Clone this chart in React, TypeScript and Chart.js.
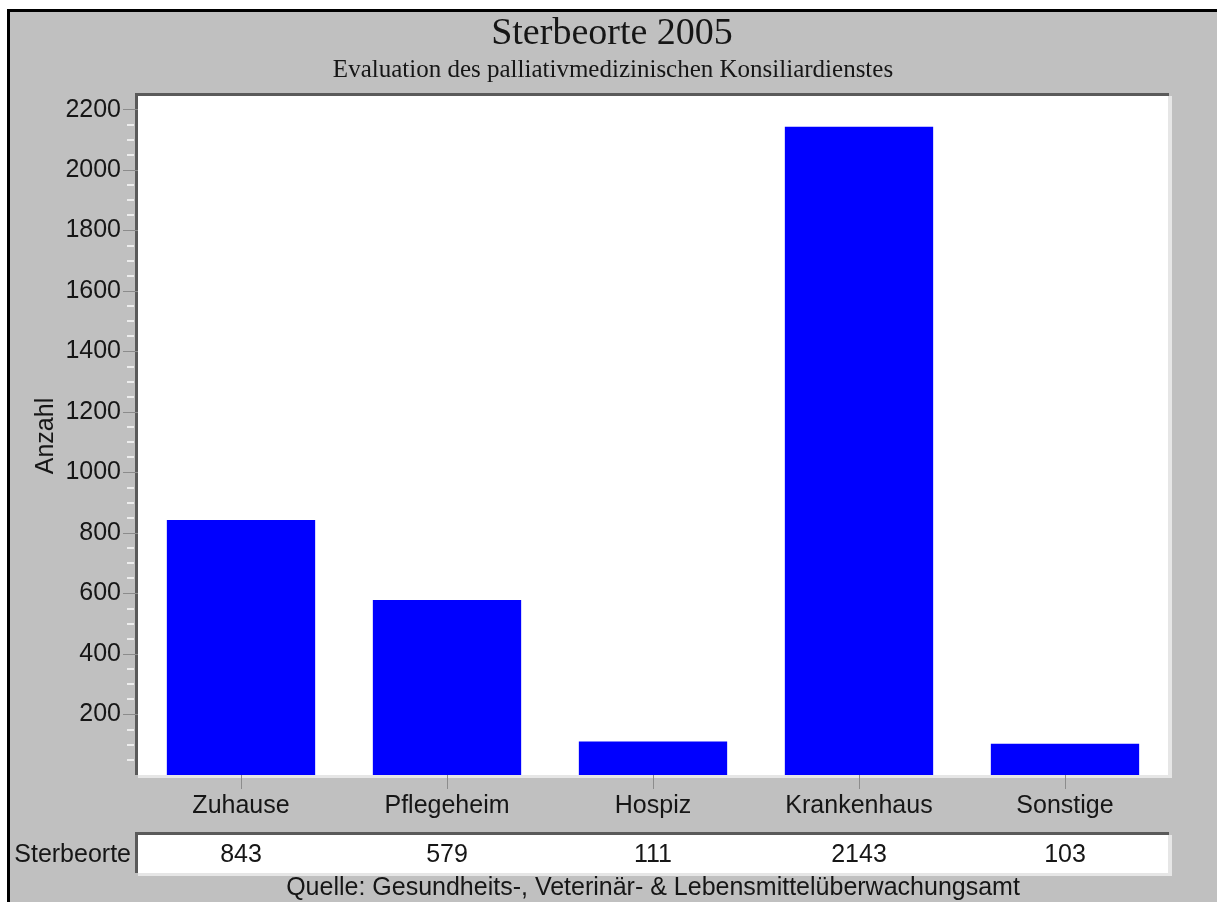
import React, { useEffect, useRef } from "react";
import { Chart, registerables } from "chart.js";

Chart.register(...registerables);

const categories: string[] = ["Zuhause", "Pflegeheim", "Hospiz", "Krankenhaus", "Sonstige"];
const values: number[] = [843, 579, 111, 2143, 103];
const seriesName = "Sterbeorte";
const titleText = "Sterbeorte 2005";
const subtitleText = "Evaluation des palliativmedizinischen Konsiliardienstes";
const yAxisTitle = "Anzahl";
const sourceText = "Quelle: Gesundheits-, Veterinär- & Lebensmittelüberwachungsamt";
const yMax = 2245;
const yStep = 200;
const yMinorStep = 50;

const SANS = "'Liberation Sans', Arial, sans-serif";
const SERIF = "'Liberation Serif', 'Times New Roman', serif";
const GRAY = "#c0c0c0";
const TEXT = "#161616";
const SANS_SIZE = 25;

const W = 1217;
const H = 902;
const PLOT_LEFT = 138;
const PLOT_TOP = 96;
const PLOT_RIGHT = 1168;
const PLOT_BOTTOM = 775;
const XAXIS_H = 46;

const framePlugin = {
  id: "frame",
  beforeDraw(chart: any) {
    const ctx = chart.ctx;
    const a = chart.chartArea;
    ctx.save();
    ctx.fillStyle = "#ffffff";
    ctx.fillRect(0, 0, W, H);
    ctx.fillStyle = GRAY;
    ctx.fillRect(9, 11, W - 9, H - 11);
    ctx.fillStyle = "#000000";
    ctx.fillRect(7, 9, W - 7, 3);
    ctx.fillRect(7, 9, 3, H - 9);
    ctx.fillStyle = "#e6e6e6";
    ctx.fillRect(a.left, a.top, a.right - a.left + 4, a.bottom - a.top + 3);
    ctx.fillStyle = "#ffffff";
    ctx.fillRect(a.left, a.top, a.right - a.left, a.bottom - a.top);
    ctx.fillStyle = "#5a5a5a";
    ctx.fillRect(a.left - 3, a.top - 3, a.right - a.left + 4, 3);
    ctx.fillRect(a.left - 3, a.top - 3, 3, a.bottom - a.top + 3);
    ctx.restore();
  },
  afterDraw(chart: any) {
    const ctx = chart.ctx;
    const a = chart.chartArea;
    const y = chart.scales.y;
    const x = chart.scales.x;
    ctx.save();
    ctx.strokeStyle = "#ededed";
    ctx.lineWidth = 2;
    for (let v = yMinorStep; v <= yMax; v += yMinorStep) {
      if (v % yStep === 0) continue;
      const py = Math.round(y.getPixelForValue(v));
      ctx.beginPath();
      ctx.moveTo(a.left - 11, py);
      ctx.lineTo(a.left - 4, py);
      ctx.stroke();
    }
    ctx.fillStyle = TEXT;
    ctx.textAlign = "center";
    ctx.textBaseline = "middle";
    const cx = (a.left + a.right) / 2;
    ctx.font = `38px ${SERIF}`;
    ctx.fillText(titleText, 612, 34);
    ctx.font = `25px ${SERIF}`;
    ctx.fillText(subtitleText, 613, 70);
    ctx.save();
    ctx.translate(46, 436);
    ctx.rotate(-Math.PI / 2);
    ctx.font = `${SANS_SIZE}px ${SANS}`;
    ctx.fillText(yAxisTitle, 0, 0);
    ctx.restore();
    const tTop = 835;
    const tBot = 873;
    ctx.fillStyle = "#e6e6e6";
    ctx.fillRect(a.left, tTop, a.right - a.left + 4, tBot - tTop + 3);
    ctx.fillStyle = "#ffffff";
    ctx.fillRect(a.left, tTop, a.right - a.left, tBot - tTop);
    ctx.fillStyle = "#5a5a5a";
    ctx.fillRect(a.left - 3, tTop - 3, a.right - a.left + 4, 3);
    ctx.fillRect(a.left - 3, tTop - 3, 3, tBot - tTop + 3);
    ctx.fillStyle = TEXT;
    ctx.font = `${SANS_SIZE}px ${SANS}`;
    ctx.textAlign = "right";
    ctx.fillText(seriesName, a.left - 7, 855);
    ctx.textAlign = "center";
    values.forEach((v, i) => {
      ctx.fillText(String(v), x.getPixelForValue(i), 855);
    });
    ctx.fillText(sourceText, cx, 888);
    ctx.restore();
  },
};

export default function App() {
  const ref = useRef<HTMLCanvasElement | null>(null);
  useEffect(() => {
    if (!ref.current) return;
    const chart = new Chart(ref.current, {
      type: "bar",
      data: {
        labels: categories,
        datasets: [
          {
            label: seriesName,
            data: values,
            backgroundColor: "#0000ff",
            borderWidth: 0,
            barPercentage: 0.72,
            categoryPercentage: 1.0,
          },
        ],
      },
      options: {
        responsive: false,
        animation: false,
        layout: {
          padding: {
            left: 0,
            top: PLOT_TOP,
            right: W - PLOT_RIGHT,
            bottom: H - PLOT_BOTTOM - XAXIS_H,
          },
        },
        plugins: {
          legend: { display: false },
          tooltip: { enabled: false },
          title: { display: false },
        },
        scales: {
          x: {
            offset: true,
            grid: {
              offset: false,
              drawOnChartArea: false,
              drawTicks: true,
              tickLength: 14,
              color: "#8c8c8c",
              lineWidth: 1,
            },
            border: { display: false },
            ticks: {
              color: TEXT,
              font: { family: SANS, size: SANS_SIZE },
              padding: 2,
              maxRotation: 0,
            },
            afterFit(scale: any) {
              scale.height = XAXIS_H;
            },
          },
          y: {
            min: 0,
            max: yMax,
            grid: {
              drawOnChartArea: false,
              drawTicks: true,
              tickLength: 15,
              color: "#8c8c8c",
              lineWidth: 1,
            },
            border: { display: false },
            ticks: {
              stepSize: yStep,
              includeBounds: false,
              color: TEXT,
              font: { family: SANS, size: SANS_SIZE },
              padding: 2,
              callback: (v: any) => String(v),
            },
            afterBuildTicks(scale: any) {
              scale.ticks = scale.ticks.filter((t: any) => t.value > 0 && t.value % yStep === 0);
            },
            afterFit(scale: any) {
              scale.width = PLOT_LEFT;
            },
          },
        },
      },
      plugins: [framePlugin],
    });
    return () => chart.destroy();
  }, []);
  return (
    <div style={{ position: "fixed", left: 0, top: 0, width: W, height: H, background: "#fff" }}>
      <canvas ref={ref} width={W} height={H} style={{ display: "block", width: W, height: H }} />
    </div>
  );
}
